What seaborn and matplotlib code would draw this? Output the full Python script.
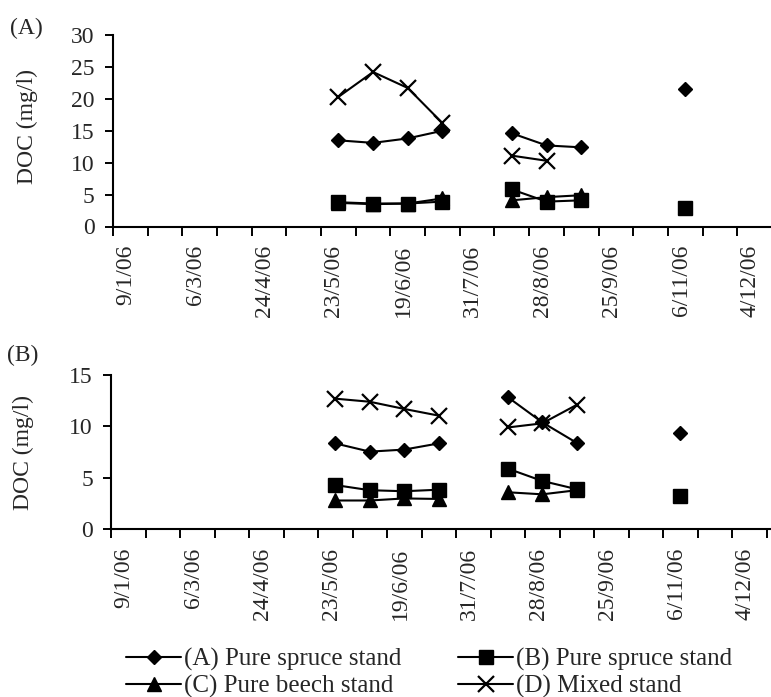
import numpy as np
import pandas as pd
import matplotlib
matplotlib.use("Agg")
import matplotlib.pyplot as plt
import matplotlib.transforms as mtransforms
from matplotlib.lines import Line2D
import seaborn as sns

# axis labels (one label every second tick)
date_labels = ["9/1/06", "6/3/06", "24/4/06", "23/5/06", "19/6/06",
               "31/7/06", "28/8/06", "25/9/06", "6/11/06", "4/12/06"]

# sampling positions in tick units, and which run of samples they belong to
sample_pos = [6.5, 7.5, 8.5, 9.5, 11.5, 12.5, 13.5, 16.5]
sample_run = [0, 0, 0, 0, 1, 1, 1, 2]

stands = ["(A) Pure spruce stand", "(B) Pure spruce stand",
          "(C) Pure beech stand", "(D) Mixed stand"]

# panel (A)
a_spruce_a = [13.5, 13.1, 13.8, 15.0, 14.6, 12.7, 12.4, 21.5]
a_spruce_b = [3.8, 3.6, 3.6, 3.9, 5.8, 3.9, 4.1, 2.85]
a_beech_c = [3.7, 3.5, 3.6, 4.4, 4.1, 4.6, 4.9, None]
a_mixed_d = [20.3, 24.2, 21.7, 16.2, 11.1, 10.3, None, None]

# panel (B)
b_spruce_a = [8.35, 7.55, 7.75, 8.35, 12.85, 10.4, 8.4, 9.35]
b_spruce_b = [4.3, 3.8, 3.7, 3.85, 5.9, 4.7, 3.9, 3.25]
b_beech_c = [2.8, 2.8, 3.0, 2.95, 3.6, 3.4, 3.8, None]
b_mixed_d = [12.7, 12.4, 11.7, 11.05, 9.9, 10.3, 12.1, None]

markers = {stands[0]: dict(marker="D", markersize=7.5, markeredgewidth=1),
           stands[1]: dict(marker="s", markersize=10, markeredgewidth=1),
           stands[2]: dict(marker="^", markersize=10, markeredgewidth=1),
           stands[3]: dict(marker="x", markersize=11, markeredgewidth=1.6)}
draw_order = [stands[2], stands[0], stands[1], stands[3]]

FS = 17
sns.set_style("ticks")
plt.rcParams["font.family"] = ["Liberation Serif", "DejaVu Serif"]
plt.rcParams["font.size"] = FS


def make_frame(series):
    rows = []
    for stand, vals in zip(stands, series):
        for x, run, v in zip(sample_pos, sample_run, vals):
            if v is not None:
                rows.append((stand, x, run, v))
    return pd.DataFrame(rows, columns=["stand", "x", "run", "doc"])


def draw_panel(ax, df, ymax, ystep, xmax):
    for stand in draw_order:
        sub = df[df["stand"] == stand]
        sns.lineplot(data=sub, x="x", y="doc", units="run", estimator=None,
                     color="black", lw=1.5, markeredgecolor="black",
                     markerfacecolor="black", legend=False, ax=ax,
                     **markers[stand])
    ax.set_xlim(0, xmax)
    ax.set_ylim(0, ymax)
    ax.set_yticks(np.arange(0, ymax + 0.1, ystep))
    ax.set_xticks(range(20))
    ax.set_xticklabels([date_labels[i // 2] if i % 2 == 0 else "" for i in range(20)],
                       rotation=90, fontsize=FS)
    ax.tick_params(axis="x", length=6.5, width=1.4, pad=6.8, color="black")
    ax.tick_params(axis="y", length=5.5, width=1.4, pad=7.5, labelsize=FS, color="black")
    shift = mtransforms.ScaledTranslation(13 / 100, 0, ax.figure.dpi_scale_trans)
    for lbl in ax.get_xticklabels():
        lbl.set_transform(lbl.get_transform() + shift)
    for side in ["top", "right"]:
        ax.spines[side].set_visible(False)
    for side in ["left", "bottom"]:
        ax.spines[side].set_linewidth(1.5)
        ax.spines[side].set_color("black")
    ax.set_xlabel("")
    ax.set_ylabel("DOC (mg/l)", fontsize=FS)


fig = plt.figure(figsize=(7.71, 6.97), dpi=100)
W, H = 771, 697
ax_a = fig.add_axes([112.8 / W, 1 - 226.5 / H, 659.3 / W, 191.5 / H])
ax_b = fig.add_axes([111 / W, 1 - 529.3 / H, 660.7 / W, 154.3 / H])

draw_panel(ax_a, make_frame([a_spruce_a, a_spruce_b, a_beech_c, a_mixed_d]), 30, 5, 19)
draw_panel(ax_b, make_frame([b_spruce_a, b_spruce_b, b_beech_c, b_mixed_d]), 15, 5, 19.15)
ax_a.yaxis.set_label_coords(-0.113, 0.52)
ax_b.yaxis.set_label_coords(-0.117, 0.5)

fig.text(26 / W, 1 - 28 / H, "(A)", ha="center", va="center", fontsize=FS)
fig.text(23 / W, 1 - 355 / H, "(B)", ha="center", va="center", fontsize=FS)

# legend reads row by row: A B / C D
leg_order = [stands[0], stands[2], stands[1], stands[3]]
handles = [Line2D([], [], color="black", lw=1.5, markeredgecolor="black",
                  markerfacecolor="black", **markers[s]) for s in leg_order]
fig.legend(handles, leg_order, ncol=2, loc="upper left",
           bbox_to_anchor=(126 / W, 1 - 648 / H), frameon=False, fontsize=18,
           borderpad=0, borderaxespad=0, handlelength=2.2, handletextpad=0.1,
           columnspacing=2.3, labelspacing=0.15)

fig.savefig("out.png", dpi=100)
